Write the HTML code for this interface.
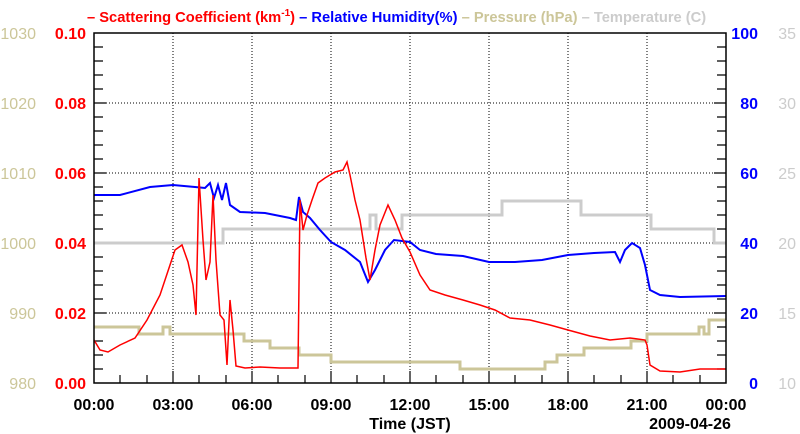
<!DOCTYPE html><html><head><style>body{margin:0;background:#fff}svg{display:block}text{font-family:"Liberation Sans",sans-serif}</style></head><body>
<svg width="800" height="434" xmlns="http://www.w3.org/2000/svg">
<g stroke="#000" stroke-dasharray="1,2" stroke-width="1">
<path d="M173,33V383M252,33V383M331,33V383M410,33V383M489,33V383M568,33V383M647,33V383M94,103H726M94,173H726M94,243H726M94,313H726"/>
</g>
<g stroke="#000" stroke-width="1.2" fill="none">
<path d="M94,47h9M94,61h9M94,75h9M94,89h9M94,103h12M94,117h9M94,131h9M94,145h9M94,159h9M94,173h12M94,187h9M94,201h9M94,215h9M94,229h9M94,243h12M94,257h9M94,271h9M94,285h9M94,299h9M94,313h12M94,327h9M94,341h9M94,355h9M94,369h9"/>
<path d="M726,47h-9M726,61h-9M726,75h-9M726,89h-9M726,103h-12M726,117h-9M726,131h-9M726,145h-9M726,159h-9M726,173h-12M726,187h-9M726,201h-9M726,215h-9M726,229h-9M726,243h-12M726,257h-9M726,271h-9M726,285h-9M726,299h-9M726,313h-12M726,327h-9M726,341h-9M726,355h-9M726,369h-9"/>
<path d="M120,383v-8M147,383v-8M173,383v-12M199,383v-8M226,383v-8M252,383v-12M278,383v-8M305,383v-8M331,383v-12M357,383v-8M384,383v-8M410,383v-12M436,383v-8M463,383v-8M489,383v-12M515,383v-8M542,383v-8M568,383v-12M594,383v-8M621,383v-8M647,383v-12M673,383v-8M700,383v-8"/>
</g>
<path fill="none" stroke="#ccc" stroke-width="3" d="M94,243H223V229H370V215H376V229H402V215H502V201H581V215H651V229H714V243H726"/>
<path fill="none" stroke="#ccc699" stroke-width="3" d="M94,327H139V334H163V327H170V334H244V341H270V348H299V355H331V362H460V369H545V362H557V355H584V348H631V341H647V334H699V327H704V334H709V320H726"/>
<path fill="none" stroke="#00f" stroke-width="2" d="M94,195L120,195L150,187L173,185L195,187L205,188L210,183L214,198L218,185L222,200L226,183L230,205L240,212L265,213L290,218L296,220L299,197L303,212L310,218L320,230L331,242L345,250L360,262L368,282L375,270L385,250L394,240L410,242L420,250L436,254L463,256L489,262L515,262L542,260L568,255L594,253L615,252L620,262L625,250L632,243L640,248L645,265L650,290L660,295L680,297L726,296"/>
<path fill="none" stroke="#f00" stroke-width="1.5" d="M94,340L100,350L108,352L120,345L135,338L147,320L160,295L170,265L175,250L182,245L188,262L193,285L196,315L199,178L203,240L206,280L210,262L213,195L216,260L220,315L224,320L227,365L230,300L233,330L236,366L245,368L260,367L280,368L298,368L300,200L303,230L307,215L312,200L318,183L325,178L335,172L343,170L347,162L350,175L355,200L360,220L366,258L370,280L375,250L380,225L388,205L395,220L402,238L410,252L420,275L430,290L445,295L463,300L480,305L495,310L510,318L530,320L550,325L568,330L590,336L610,340L630,338L645,340L647,345L650,365L660,371L680,372L700,369L726,369"/>
<rect x="94" y="33" width="632" height="350" fill="none" stroke="#000" stroke-width="1.5"/>
<g font-size="16" font-weight="bold" text-anchor="end" fill="#f00">
<text x="86" y="39">0.10</text><text x="86" y="109">0.08</text><text x="86" y="179">0.06</text><text x="86" y="249">0.04</text><text x="86" y="319">0.02</text><text x="86" y="389">0.00</text></g>
<g font-size="16" text-anchor="end" fill="#ccc699">
<text x="36" y="39">1030</text><text x="36" y="109">1020</text><text x="36" y="179">1010</text><text x="36" y="249">1000</text><text x="36" y="319">990</text><text x="36" y="389">980</text></g>
<g font-size="16" font-weight="bold" text-anchor="end" fill="#00f">
<text x="758" y="39">100</text><text x="758" y="109">80</text><text x="758" y="179">60</text><text x="758" y="249">40</text><text x="758" y="319">20</text><text x="758" y="389">0</text></g>
<g font-size="16" text-anchor="end" fill="#ccc">
<text x="796" y="39">35</text><text x="796" y="109">30</text><text x="796" y="179">25</text><text x="796" y="249">20</text><text x="796" y="319">15</text><text x="796" y="389">10</text></g>
<g font-size="16" font-weight="bold" text-anchor="middle" fill="#000">
<text x="94" y="410">00:00</text><text x="173" y="410">03:00</text><text x="252" y="410">06:00</text><text x="331" y="410">09:00</text><text x="410" y="410">12:00</text><text x="489" y="410">15:00</text><text x="568" y="410">18:00</text><text x="647" y="410">21:00</text><text x="726" y="410">00:00</text>
<text x="410" y="429">Time (JST)</text><text x="690" y="429">2009-04-26</text></g>
<text x="87" y="22" font-size="14.7" font-weight="bold"><tspan fill="#f00">– Scattering Coefficient (km<tspan font-size="10" dy="-6">-1</tspan><tspan dy="6">)</tspan></tspan><tspan fill="#00f"> – Relative Humidity(%)</tspan><tspan fill="#ccc699"> – Pressure (hPa)</tspan><tspan fill="#ccc"> – Temperature (C)</tspan></text>
</svg></body></html>
